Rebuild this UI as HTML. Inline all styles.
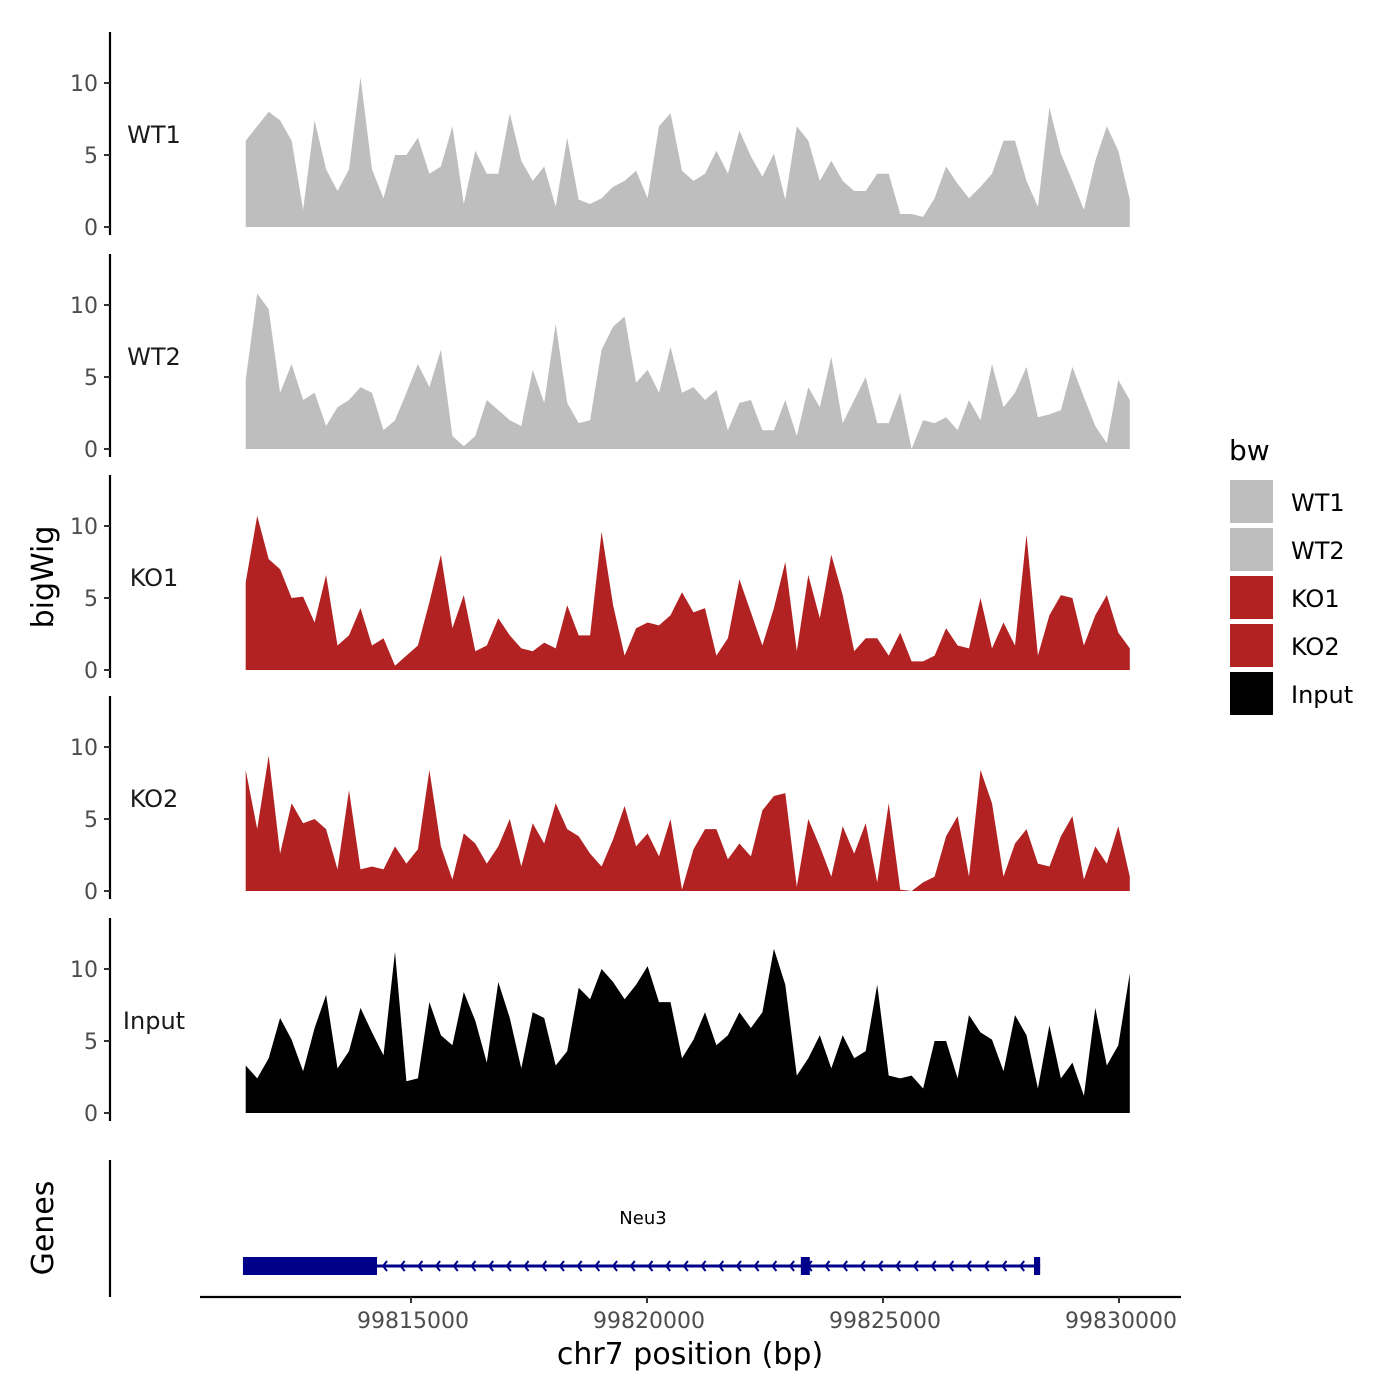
<!DOCTYPE html>
<html><head><meta charset="utf-8"><style>
html,body{margin:0;padding:0;background:#fff;}
svg{display:block;font-family:"DejaVu Sans","Liberation Sans",sans-serif;}
</style></head><body>
<svg id="chart" width="1400" height="1400"></svg>
<script>
const trackNames = ["WT1","WT2","KO1","KO2","Input"];
const trackColors = ["#bebebe","#bebebe","#b22222","#b22222","#000000"];
const axisStartBp = 99810530, axisEndBp = 99831314;
const dataStartBp = 99811498, dataEndBp = 99830229;
const xTicks = [99815000, 99820000, 99825000, 99830000];
const yTicks = [0,5,10];
const wt1 = [6,7,8,7.4,6,1.2,7.4,4,2.5,4,10.4,4,2,5,5,6.2,3.7,4.2,7,1.6,5.3,3.7,3.7,7.9,4.6,3.2,4.2,1.4,6.2,1.9,1.6,2,2.8,3.2,3.9,2,7,7.9,3.9,3.2,3.7,5.3,3.7,6.7,4.9,3.5,5.1,1.9,7,6,3.2,4.6,3.2,2.5,2.5,3.7,3.7,0.9,0.9,0.7,2,4.2,3,2,2.8,3.7,6,6,3.2,1.4,8.3,5.1,3.2,1.2,4.6,7,5.3,1.9];
const wt2 = [4.8,10.8,9.7,3.9,5.9,3.4,3.9,1.6,2.9,3.4,4.3,3.9,1.3,2,3.9,5.9,4.3,6.9,0.9,0.2,0.9,3.4,2.7,2,1.6,5.5,3.2,8.7,3.2,1.8,2,6.9,8.5,9.2,4.6,5.5,3.9,7.1,3.9,4.3,3.4,4.1,1.3,3.2,3.4,1.3,1.3,3.4,0.9,4.3,2.9,6.4,1.8,3.4,5,1.8,1.8,3.9,0,2,1.8,2.2,1.3,3.4,2,5.9,2.9,3.9,5.7,2.2,2.4,2.7,5.7,3.6,1.6,0.4,4.8,3.4];
const ko1 = [6.1,10.7,7.7,7,5,5.1,3.3,6.6,1.7,2.4,4.3,1.7,2.2,0.3,1,1.7,4.7,8,2.9,5.2,1.3,1.7,3.6,2.4,1.5,1.3,1.9,1.5,4.5,2.4,2.4,9.6,4.5,1,2.9,3.3,3.1,3.8,5.4,4,4.3,1,2.2,6.3,4,1.7,4.3,7.5,1.3,6.6,3.6,8,5.2,1.3,2.2,2.2,1,2.6,0.6,0.6,1,2.9,1.7,1.5,5,1.5,3.3,1.7,9.4,1,3.8,5.2,5,1.7,3.8,5.2,2.6,1.5];
const ko2 = [8.4,4.3,9.4,2.6,6.1,4.7,5,4.3,1.5,7,1.5,1.7,1.5,3.1,1.9,2.9,8.4,3.1,0.8,4,3.3,1.9,3.1,5,1.7,4.7,3.3,6.1,4.3,3.8,2.6,1.7,3.6,5.9,3.1,4,2.4,5,0.1,2.9,4.3,4.3,2.2,3.3,2.4,5.6,6.6,6.8,0.3,5,3.1,1,4.5,2.6,4.7,0.6,6.1,0.1,0,0.6,1,3.8,5.2,1,8.4,6.1,1,3.3,4.3,1.9,1.7,3.8,5.2,0.8,3.1,1.9,4.5,1];
const inp = [3.3,2.4,3.8,6.6,5.1,2.9,5.9,8.2,3.1,4.3,7.3,5.6,4,11.2,2.2,2.4,7.7,5.4,4.7,8.4,6.4,3.5,9.1,6.6,3.1,7,6.6,3.3,4.3,8.7,7.9,10,9.1,7.9,8.9,10.2,7.7,7.7,3.8,5.1,7,4.7,5.4,7,5.9,7,11.4,8.9,2.6,3.8,5.4,3.1,5.4,3.8,4.3,8.9,2.6,2.4,2.6,1.7,5,5,2.4,6.8,5.6,5.1,2.9,6.8,5.4,1.7,6.1,2.4,3.5,1.2,7.3,3.3,4.7,9.7];
const trackData = [wt1,wt2,ko1,ko2,inp];
const exons = [[99811440,99814280],[99823260,99823450],[99828200,99828330]];
const geneStart = 99811440, geneEnd = 99828330;

const NS="http://www.w3.org/2000/svg";
const svg=document.getElementById('chart');
function el(t,a,p){const e=document.createElementNS(NS,t);for(const k in a)e.setAttribute(k,a[k]);(p||svg).appendChild(e);return e;}
const AX0=200,AX1=1181;
function xs(bp){return AX0+(bp-axisStartBp)/(axisEndBp-axisStartBp)*(AX1-AX0);}
const zeroY=[227,449,670,891,1113];
const pxPer=14.4;

trackNames.forEach((nm,ti)=>{
  const g=el('g',{});
  
  
  const z=zeroY[ti];
  const ys=v=>z-v*pxPer;
  const ax=el('line',{x1:110,x2:110,y1:z-195,y2:z+8,stroke:'#000','stroke-width':2.2},g);
  
  
  yTicks.forEach(t=>{
    el('line',{x1:104,x2:110,y1:ys(t),y2:ys(t),stroke:'#333','stroke-width':2},g);
    const tx=el('text',{x:98,y:ys(t)+8,'text-anchor':'end','font-size':22,fill:'#4d4d4d'},g);
    tx.textContent=t;
    
    
  });
  const lab=el('text',{x:154,y:z-84,'text-anchor':'middle','font-size':24,fill:'#1a1a1a'},g);
  lab.textContent=nm;
  
  
  const d=trackData[ti];const n=d.length;
  let p='M'+xs(dataStartBp).toFixed(1)+','+z;
  d.forEach((v,i)=>{const bp=dataStartBp+i*(dataEndBp-dataStartBp)/(n-1);p+=' L'+xs(bp).toFixed(1)+','+ys(v).toFixed(1);});
  p+=' L'+xs(dataEndBp).toFixed(1)+','+z+' Z';
  const ar=el('path',{d:p,fill:trackColors[ti]},g);
  
  
});

const yt=el('text',{x:0,y:0,transform:'translate(53,577) rotate(-90)','text-anchor':'middle','font-size':30,fill:'#000'});
yt.textContent='bigWig';



const ga=el('line',{x1:110,x2:110,y1:1160,y2:1297,stroke:'#000','stroke-width':2.2});


const gt=el('text',{x:0,y:0,transform:'translate(53,1228) rotate(-90)','text-anchor':'middle','font-size':30,fill:'#000'});
gt.textContent='Genes';


const gg=el('g',{});


el('line',{x1:xs(geneStart),x2:xs(geneEnd),y1:1266,y2:1266,stroke:'#00008b','stroke-width':3},gg);
for(let x=xs(exons[0][1])+6;x<xs(geneEnd)-6;x+=17.7){
  el('polyline',{points:`${x+4},${1261} ${x},${1266} ${x+4},${1271}`,fill:'none',stroke:'#00008b','stroke-width':2},gg);
}
exons.forEach(e=>{
  const r=el('rect',{x:xs(e[0]),y:1257,width:Math.max(xs(e[1])-xs(e[0]),6),height:18,fill:'#00008b'},gg);
  
  
});
const gl=el('text',{x:643,y:1224,'text-anchor':'middle','font-size':18,fill:'#000'},gg);
gl.textContent='Neu3';



const xa=el('line',{x1:200,x2:1181,y1:1297,y2:1297,stroke:'#000','stroke-width':2.2});


xTicks.forEach(t=>{
  el('line',{x1:xs(t),x2:xs(t),y1:1297,y2:1303,stroke:'#333','stroke-width':2});
  const tx=el('text',{x:xs(t)+2,y:1328,'text-anchor':'middle','font-size':22,fill:'#4d4d4d'});
  tx.textContent=t;
  
  
});
const xt=el('text',{x:690,y:1364,'text-anchor':'middle','font-size':30,fill:'#000'});
xt.textContent='chr7 position (bp)';



const lt=el('text',{x:1229,y:460,'font-size':28,fill:'#000'});
lt.textContent='bw';


trackNames.forEach((nm,i)=>{
  const g=el('g',{});
  
  
  const y=480+i*48;
  el('rect',{x:1230,y:y,width:43,height:43,fill:trackColors[i]},g);
  const t=el('text',{x:1291,y:y+31,'font-size':24,fill:'#000'},g);
  t.textContent=nm;
});
</script>
</body></html>
